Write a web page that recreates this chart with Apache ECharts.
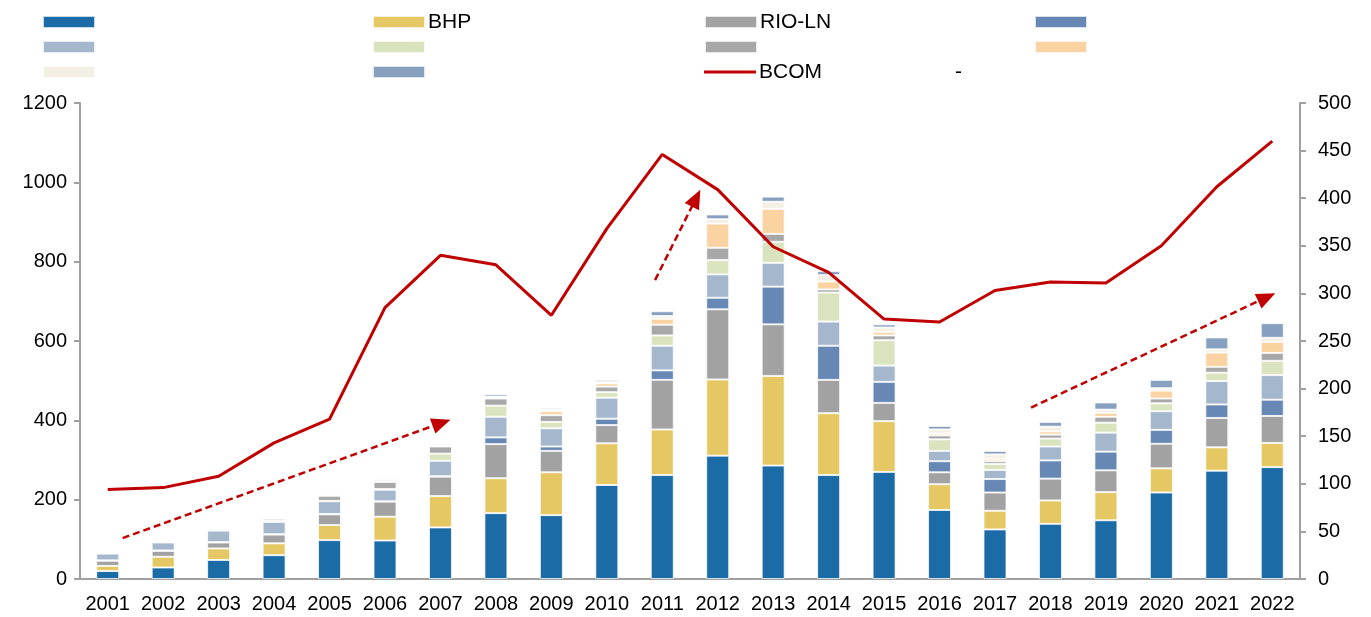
<!DOCTYPE html>
<html>
<head>
<meta charset="utf-8">
<script src="https://cdn.jsdelivr.net/npm/echarts@6/dist/echarts.min.js"></script>
<style>
  html, body { margin: 0; padding: 0; background: #fff; }
  #main { width: 1371px; height: 617px; }
</style>
</head>
<body>
<div id="main"></div>
<script>
// 年份
var years = ['2001', '2002', '2003', '2004', '2005', '2006', '2007', '2008', '2009', '2010', '2011',
  '2012', '2013', '2014', '2015', '2016', '2017', '2018', '2019', '2020', '2021', '2022'];

// 堆叠柱，从下到上
var s1 = [20, 29, 48, 60, 98, 97, 130, 166, 161, 237, 262, 311, 286, 262, 270, 174, 125, 139, 148, 218, 273, 282];
var bhp = [13, 27, 29, 30, 38, 60, 79, 88, 108, 105, 115, 192, 226, 156, 128, 65, 47, 59, 71, 61, 59, 61];
var rio = [13, 15, 15, 22, 27, 38, 49, 86, 54, 46, 125, 177, 130, 84, 46, 30, 46, 55, 55, 62, 74, 68];
var s4 = [1, 1, 1, 1, 1, 1, 1, 17, 11, 16, 24, 29, 95, 86, 53, 28, 34, 46, 47, 35, 34, 41];
var s5 = [17, 20, 29, 31, 32, 29, 39, 52, 46, 53, 62, 59, 60, 61, 41, 26, 23, 35, 48, 47, 59, 62];
var s6 = [2, 2, 2, 3, 1, 2, 18, 28, 16, 14, 26, 36, 53, 73, 64, 29, 15, 20, 25, 20, 21, 36];
var s7 = [3, 2, 4, 5, 13, 18, 18, 18, 17, 14, 27, 31, 20, 8, 12, 10, 7, 10, 15, 12, 15, 20];
var s8 = [0, 0, 0, 0, 0, 0, 1, 1, 10, 8, 15, 61, 63, 20, 9, 5, 6, 8, 10, 20, 36, 28];
var s9 = [2, 1, 1, 2, 4, 2, 2, 4, 5, 4, 7, 11, 18, 16, 11, 10, 11, 12, 8, 6, 8, 10];
var s10 = [1, 1, 1, 2, 2, 4, 3, 6, 4, 5, 12, 12, 13, 10, 8, 9, 9, 12, 18, 21, 30, 37];

// BCOM（右轴）
var bcom = [94, 96, 108, 143, 168, 285, 340, 330, 277, 368, 446, 409, 349, 322, 273, 270, 303, 312, 311, 350, 412, 460];

// 趋势箭头 [起点x, 起点y, 终点x, 终点y]，x为年份序号，y为右轴
var arrows = [
  [0.27, 43, 6.02, 164],
  [9.87, 314, 10.61, 400],
  [16.65, 180, 20.9, 296]
];

var font = 'Arial, "Liberation Sans", sans-serif';
var barKeys = ['s1', 'BHP', 'RIO-LN', 's4', 's5', 's6', 's7', 's8', 's9', 's10'];
var barData = [s1, bhp, rio, s4, s5, s6, s7, s8, s9, s10];
var barColors = ['#1A6BA6', '#E5C863', '#A2A2A2', '#6787B4', '#A5B7CD', '#D9E4BE', '#A8A8A8', '#FBD2A1', '#F3EFE4', '#88A0BF'];
var labelText = { 'BHP': 'BHP', 'RIO-LN': 'RIO-LN', 'BCOM': '{a|BCOM}{b|-}' };

// 图例位置：4列3行
var legendCols = [42, 372, 704, 1034];
var legendRows = [10, 35, 60];
var legendLayout = [
  ['s1', 0, 0], ['BHP', 1, 0], ['RIO-LN', 2, 0], ['s4', 3, 0],
  ['s5', 0, 1], ['s6', 1, 1], ['s7', 2, 1], ['s8', 3, 1],
  ['s9', 0, 2], ['s10', 1, 2], ['BCOM', 2, 2]
];

var chart = echarts.init(document.getElementById('main'));

var series = barData.map(function (d, i) {
  return {
    name: barKeys[i],
    type: 'bar',
    stack: 'total',
    barWidth: 23,
    data: d,
    itemStyle: { color: barColors[i], borderColor: 'rgba(255,255,255,0.75)', borderWidth: 1 }
  };
});

series.push({
  name: 'BCOM',
  type: 'line',
  yAxisIndex: 1,
  data: bcom,
  symbol: 'none',
  lineStyle: { color: '#C00000', width: 3 },
  itemStyle: { color: '#C00000' },
  z: 5
});

series.push({
  name: 'arrows',
  type: 'line',
  xAxisIndex: 1,
  yAxisIndex: 1,
  data: [],
  markLine: {
    silent: true,
    symbol: ['none', 'triangle'],
    symbolSize: [16, 19],
    label: { show: false },
    lineStyle: { color: '#C00000', type: [7, 4], width: 2.5 },
    data: arrows.map(function (a) {
      return [{ coord: [a[0], a[1]] }, { coord: [a[2], a[3]] }];
    })
  }
});

var legends = legendLayout.map(function (l) {
  var n = l[0];
  return {
    left: legendCols[l[1]],
    top: legendRows[l[2]],
    padding: 0,
    itemWidth: 52,
    itemHeight: 12,
    icon: 'rect',
    data: [n === 'BCOM' ? { name: n, icon: 'path://M0,0L52,0L52,3L0,3Z' } : n],
    formatter: function (name) { return labelText[name] || ' '; },
    selectedMode: false,
    textStyle: {
      fontFamily: font, fontSize: 21, color: '#000', lineHeight: 24, padding: [0, 0, 0, -2],
      rich: {
        a: { fontFamily: font, fontSize: 21, color: '#000', lineHeight: 24 },
        b: { fontFamily: font, fontSize: 21, color: '#000', lineHeight: 24, padding: [0, 0, 0, 133] }
      }
    }
  };
});

function plain(v) { return String(v); }

var option = {
  animation: false,
  legend: legends,
  grid: { left: 80, right: 71, top: 103, bottom: 38 },
  xAxis: [{
    type: 'category',
    data: years,
    axisLine: { lineStyle: { color: '#A0A0A0', width: 2 } },
    axisTick: { show: false },
    axisLabel: { color: '#000', fontFamily: font, fontSize: 20, margin: 15, interval: 0 }
  }, {
    type: 'value',
    min: -0.5,
    max: 21.5,
    show: false
  }],
  yAxis: [{
    type: 'value',
    min: 0,
    max: 1200,
    interval: 200,
    splitLine: { show: false },
    axisLine: { show: true, onZero: false, lineStyle: { color: '#A0A0A0', width: 2 } },
    axisTick: { show: true, length: 6, lineStyle: { color: '#A0A0A0', width: 2 } },
    axisLabel: { color: '#000', fontFamily: font, fontSize: 20, margin: 13, formatter: plain }
  }, {
    type: 'value',
    min: 0,
    max: 500,
    interval: 50,
    splitLine: { show: false },
    axisLine: { show: true, onZero: false, lineStyle: { color: '#A0A0A0', width: 2 } },
    axisTick: { show: true, length: 6, lineStyle: { color: '#A0A0A0', width: 2 } },
    axisLabel: { color: '#000', fontFamily: font, fontSize: 20, margin: 18, formatter: plain }
  }],
  series: series
};

chart.setOption(option);
</script>
</body>
</html>
